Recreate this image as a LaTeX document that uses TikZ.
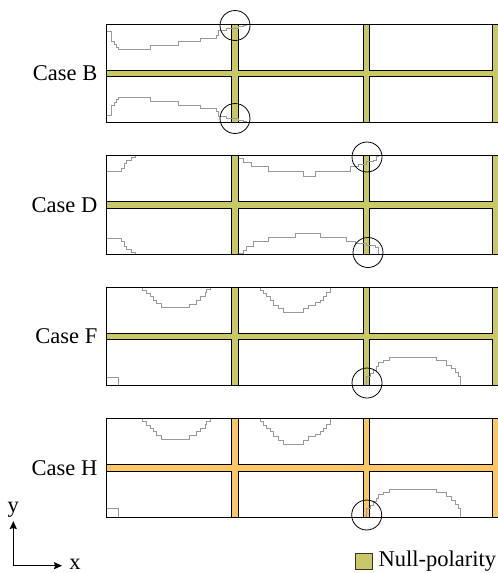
\documentclass[tikz,border=0pt]{standalone}
\usepackage{fontspec}
\setmainfont{Liberation Serif}
\usetikzlibrary{arrows.meta}
\definecolor{nullc}{RGB}{201,200,102}
\definecolor{orangec}{RGB}{251,199,101}
\tikzset{
  cellbox/.style={fill=white, draw=black, line width=1pt},
  stair/.style={draw=black!40, line width=0.6pt},
  hl/.style={circle, draw=black, line width=0.8pt, minimum size=30pt, inner sep=0pt},
  lbl/.style={font=\fontsize{22.5}{26}\selectfont, inner sep=0pt},
  axis/.style={line width=1pt, -{Stealth[length=8pt,width=7pt,inset=1pt]}},
}
\newcommand\mypanel[2]{%
  \begin{scope}[shift={(0,#1)}]
    \fill[#2] (106.5,0) rectangle (520,98.5);
    \foreach \xa/\xb in {106.5/231.5, 238/363, 369.5/492.5, 499/620}{
      \draw[cellbox] (\xa,0) rectangle (\xb,46);
      \draw[cellbox] (\xa,52.5) rectangle (\xb,98.5);
    }
    \draw[line width=1pt] (520,0) -- (106.5,0) -- (106.5,98.5) -- (520,98.5);
  \end{scope}}
\newcommand\stairBtop{(106.5,7.7) -- (111.7,7.7) -- (111.7,17) -- (114,17) -- (114,20.3) -- (116.7,20.3) -- (116.7,23.5) -- (118.3,23.5) -- (118.3,25) -- (150,25) -- (150,21) -- (178.3,21) -- (178.3,17.7) -- (200,17.7) -- (200,14.3) -- (216.7,14.3) -- (216.7,11) -- (218.3,11) -- (218.3,6.7) -- (226.7,6.7) -- (226.7,4.3) -- (238.3,4.3) -- (238.3,2.7) -- (243.3,2.7) -- (243.3,0.8) -- (246.7,0.8)}
\newcommand\stairDcorner{(106.5,16.2) -- (121.7,16.2) -- (121.7,12.8) -- (124,12.8) -- (124,7.8) -- (126.7,7.8) -- (126.7,4.5) -- (131.7,4.5) -- (131.7,2.2) -- (135,2.2) -- (135,0.5)}
\newcommand\stairFbowlA{(142.7,0.5) -- (142.7,3) -- (146.7,3) -- (146.7,6.3) -- (150,6.3) -- (150,9.7) -- (153.3,9.7) -- (153.3,13) -- (156.7,13) -- (156.7,16.3) -- (161.7,16.3) -- (161.7,20.3) -- (189.3,20.3) -- (189.3,17) -- (196.7,17) -- (196.7,13) -- (200,13) -- (200,9.7) -- (205,9.7) -- (205,5.7) -- (206.7,5.7) -- (206.7,2.3) -- (210,2.3) -- (210,0.5)}
\newcommand\stairFbowlB{(260.7,0.5) -- (260.7,3) -- (263.3,3) -- (263.3,6.3) -- (266.7,6.3) -- (266.7,9.7) -- (270,9.7) -- (270,13) -- (273.3,13) -- (273.3,18) -- (278.3,18) -- (278.3,21.3) -- (283.3,21.3) -- (283.3,25.3) -- (303.3,25.3) -- (303.3,21.3) -- (308.3,21.3) -- (308.3,18) -- (315,18) -- (315,15.7) -- (320,15.7) -- (320,13) -- (323.3,13) -- (323.3,9.7) -- (326.7,9.7) -- (326.7,5.7) -- (330.7,5.7) -- (330.7,0.5)}
\newcommand\stairFsquare{(106.5,90) -- (118.3,90) -- (118.3,98)}
\newcommand\stairFdome{(366.7,98) -- (366.7,89.7) -- (370.7,89.7) -- (370.7,86.3) -- (373.3,86.3) -- (373.3,83) -- (376.7,83) -- (376.7,79.7) -- (378.3,79.7) -- (378.3,75.7) -- (383.3,75.7) -- (383.3,73.7) -- (389.3,73.7) -- (389.3,70.3) -- (436.7,70.3) -- (436.7,73.7) -- (446.7,73.7) -- (446.7,78) -- (451.7,78) -- (451.7,81.3) -- (455,81.3) -- (455,85.7) -- (458.3,85.7) -- (458.3,89.7) -- (460.7,89.7) -- (460.7,98)}
\begin{document}
\begin{tikzpicture}[x=1pt,y=-1pt]
\useasboundingbox (0,0) rectangle (498,573);
\clip (0,0) rectangle (498,573);
\fill[white] (0,0) rectangle (498,573);
% panels
\mypanel{24}{nullc}
\mypanel{155.5}{nullc}
\mypanel{287}{nullc}
\mypanel{418.5}{orangec}
% Case B curves
\begin{scope}[shift={(0,24)}]
  \draw[stair] \stairBtop;
\end{scope}
\begin{scope}[shift={(0,24+98.5)}, yscale=-1]
  \draw[stair] \stairBtop;
\end{scope}
% Case D curves
\begin{scope}[shift={(0,155.5)}]
  \draw[stair] \stairDcorner;
  \draw[stair] (238.5,2.8) -- (243.3,2.8) -- (243.3,7.2) -- (251.7,7.2) -- (251.7,11.2) -- (268.3,11.2) -- (268.3,16.2) -- (303.3,16.2) -- (303.3,20.5) -- (315,20.5) -- (315,16.2) -- (350,16.2) -- (350,11.2) -- (358.3,11.2) -- (358.3,9) -- (366,9) -- (366,6.2) -- (373.3,6.2) -- (373.3,4.5) -- (376.7,4.5) -- (376.7,1.2) -- (378.3,1.2) -- (378.3,0.5);
  \draw[stair] (238.5,97.8) -- (243.3,97.8) -- (243.3,94.5) -- (246.7,94.5) -- (246.7,90.5) -- (253.3,90.5) -- (253.3,86.2) -- (268.3,86.2) -- (268.3,81.8) -- (295,81.8) -- (295,77.8) -- (320,77.8) -- (320,81.8) -- (346.7,81.8) -- (346.7,86.2) -- (355,86.2) -- (355,88) -- (366,88) -- (366,89.5) -- (375,89.5) -- (375,92) -- (378.3,92) -- (378.3,98);
\end{scope}
\begin{scope}[shift={(0,155.5+98.5)}, yscale=-1]
  \draw[stair] \stairDcorner;
\end{scope}
% Case F curves
\begin{scope}[shift={(0,287)}]
  \draw[stair] \stairFbowlA;
  \draw[stair] \stairFbowlB;
  \draw[stair] \stairFsquare;
  \draw[stair] \stairFdome;
\end{scope}
% Case H curves
\begin{scope}[shift={(0,418.5)}]
  \draw[stair] \stairFbowlA;
  \draw[stair] \stairFbowlB;
  \draw[stair] \stairFsquare;
  \draw[stair] \stairFdome;
\end{scope}
% highlight circles
\node[hl] (cB1) at (235,25.5) {};
\node[hl] (cB2) at (235,118.5) {};
\node[hl] (cD1) at (367,157) {};
\node[hl] (cD2) at (368,252.5) {};
\node[hl] (cF1) at (367,383) {};
\node[hl] (cH1) at (366.7,515) {};
% labels
\node[lbl, anchor=east] (lB) at (97.5,73.25) {Case B};
\node[lbl, anchor=east] (lD) at (97.5,204.75) {Case D};
\node[lbl, anchor=east] (lF) at (97.5,336.25) {Case F};
\node[lbl, anchor=east] (lH) at (97.5,467.75) {Case H};
% axes
\coordinate (o) at (13.3,565.7);
\coordinate (ytip) at (13.3,521);
\coordinate (xtip) at (62,565.7);
\draw[axis] (o) -- (ytip);
\draw[axis] (o) -- (xtip);
\node[lbl, anchor=south] (ylab) at (13.3,518) {y};
\node[lbl] (xlab) at (75,564) {x};
% legend
\draw[fill=nullc, draw=black!80, line width=0.8pt] (355,553) rectangle (372.5,569.5);
\node[lbl, anchor=west] (leg) at (378.5,561.5) {Null-polarity};
\end{tikzpicture}
\end{document}
